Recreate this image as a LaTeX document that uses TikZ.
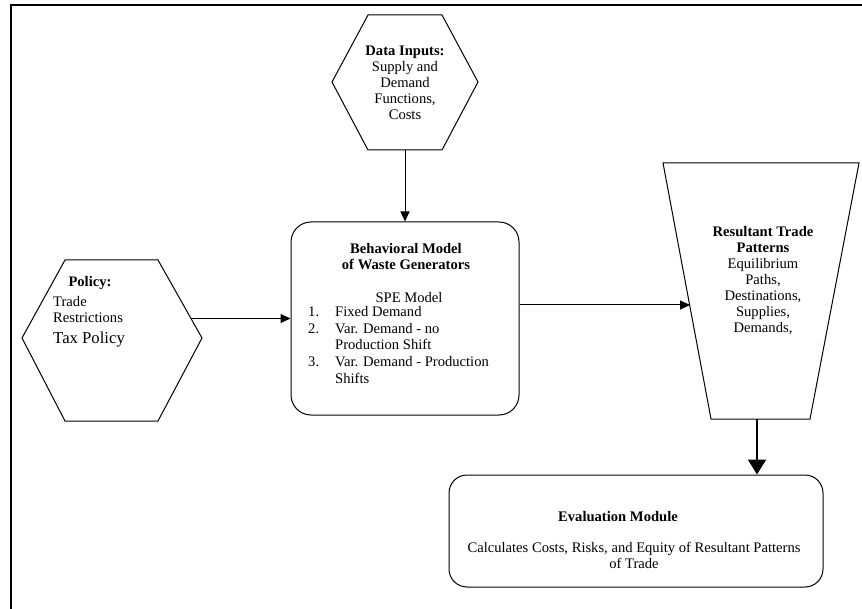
\documentclass[tikz,border=0pt]{standalone}
\usepackage{fontspec}
\setmainfont{Liberation Serif}
\usetikzlibrary{arrows.meta,calc}
\begin{document}
\begin{tikzpicture}[x=1pt,y=-1pt,
 outline/.style={draw,line width=1pt,line join=miter},
 txt/.style={font=\fontsize{14.6}{16}\selectfont,inner sep=0pt},
 conn/.style={line width=1pt,-{Triangle[length=10pt,width=9pt]}},
 bigconn/.style={line width=2pt,-{Triangle[length=15pt,width=18pt]}},
 rbox/.style={draw,line width=1pt,rounded corners=20pt,inner sep=0pt}]
\useasboundingbox (0,0) rectangle (862,609);
\draw[line width=1.2pt] (11,609) -- (11,5) -- (862,5);

% Data inputs hexagon
\draw[outline] (368,15) -- (442,15) -- (478,82) -- (442,150) -- (368,150) -- (332,82) -- cycle;
\coordinate (dbot) at (405,150);
\node[txt,align=center] (data) at (405,83) {\textbf{Data Inputs:}\\Supply and\\Demand\\Functions,\\Costs};

% Policy hexagon
\draw[outline] (65,260) -- (158,260) -- (202,338) -- (158,421) -- (65,421) -- (22,338) -- cycle;
\coordinate (pout) at (191,318.5);
\node[txt] (poltitle) at (90,283) {\textbf{Policy:}};
\node[txt,align=left,anchor=west] (poltext) at (53,322) {Trade\\Restrictions\\[5pt]{\fontsize{16.7}{18}\selectfont Tax Policy}};

% Behavioral model box
\node[rbox,minimum width=228pt,minimum height=193pt] (beh) at (405,318.5) {};
\node[txt,align=center] (behtitle) at (406,256.5) {\textbf{Behavioral Model}\\\textbf{of Waste Generators}};
\node[txt] (spe) at (409,298) {SPE Model};
\node[txt,anchor=west] (list) at (308,346.5) {\renewcommand{\arraystretch}{1.05}\begin{tabular}{@{}p{27pt}@{}l@{}}1.&Fixed Demand\\2.&Var. Demand - no\\&Production Shift\\3.&Var. Demand - Production\\&Shifts\end{tabular}};

% Resultant trade patterns trapezoid
\draw[outline] (663,163) -- (859,163) -- (810,419) -- (711,419) -- cycle;
\coordinate (tin) at (690,305);
\coordinate (tbot) at (757,419);
\node[txt,align=center] (trtext) at (763,281) {\textbf{Resultant Trade}\\\textbf{Patterns}\\Equilibrium\\Paths,\\Destinations,\\Supplies,\\Demands,};

% Evaluation module
\node[rbox,rounded corners=18pt,minimum width=374pt,minimum height=112pt] (eval) at (636,531) {};
\node[txt] (evtitle) at (618,517) {\textbf{Evaluation Module}};
\node[txt,align=center] (evtext) at (634,555.5) {Calculates Costs, Risks, and Equity of Resultant Patterns\\of Trade};

% Connectors
\draw[conn] (dbot) -- (beh.north);
\draw[conn] (pout) -- (beh.west);
\coordinate (bout) at ($(beh.east)+(0,-13.5)$);
\draw[conn] (bout) -- (tin);
\draw[bigconn] (tbot) -- (tbot |- eval.north);
\end{tikzpicture}
\end{document}
